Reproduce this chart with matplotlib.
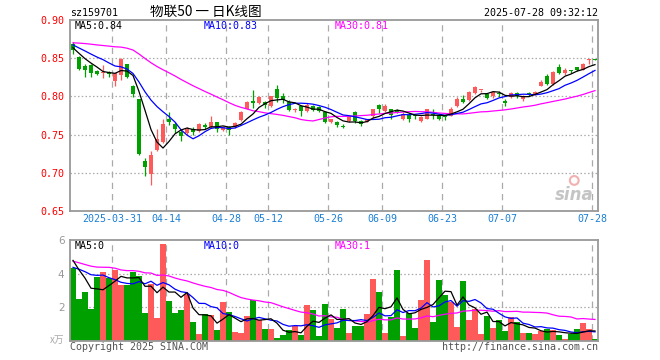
import numpy as np
import pandas as pd
import matplotlib
matplotlib.use("Agg")
import matplotlib.pyplot as plt

# trading days (weekdays minus exchange holidays)
holidays = ["2025-04-04", "2025-05-01", "2025-05-02", "2025-05-05", "2025-06-02"]
dates = pd.bdate_range("2025-03-20", "2025-07-28")
dates = dates[~dates.isin(pd.to_datetime(holidays))]

# daily candles
opens = [0.869, 0.852, 0.840, 0.841, 0.833, 0.830, 0.832, 0.820, 0.828, 0.842,
         0.814, 0.796, 0.716, 0.699, 0.730, 0.740, 0.770, 0.764, 0.754, 0.752,
         0.757, 0.755, 0.7625, 0.760, 0.766, 0.756, 0.760, 0.760, 0.769, 0.784,
         0.794, 0.791, 0.793, 0.788, 0.810, 0.800, 0.793, 0.782, 0.787, 0.781,
         0.787, 0.786, 0.780, 0.767, 0.766, 0.761, 0.768, 0.780, 0.768, 0.767,
         0.774, 0.789, 0.781, 0.783, 0.781, 0.770, 0.776, 0.776, 0.768, 0.771,
         0.777, 0.776, 0.774, 0.775, 0.787, 0.797, 0.795, 0.804, 0.8085, 0.803,
         0.800, 0.804, 0.794, 0.799, 0.805, 0.796, 0.804, 0.803, 0.814, 0.827,
         0.816, 0.838, 0.830, 0.834, 0.838, 0.835, 0.848, 0.849]
highs = [0.871, 0.853, 0.842, 0.842, 0.835, 0.841, 0.833, 0.831, 0.850, 0.843,
         0.815, 0.796, 0.719, 0.728, 0.757, 0.770, 0.779, 0.766, 0.756, 0.760,
         0.760, 0.765, 0.765, 0.774, 0.767, 0.761, 0.761, 0.766, 0.781, 0.794,
         0.808, 0.800, 0.794, 0.801, 0.815, 0.805, 0.795, 0.785, 0.789, 0.791,
         0.789, 0.787, 0.781, 0.771, 0.768, 0.764, 0.774, 0.781, 0.769, 0.771,
         0.784, 0.790, 0.790, 0.784, 0.784, 0.779, 0.778, 0.777, 0.775, 0.784,
         0.784, 0.777, 0.776, 0.786, 0.799, 0.802, 0.807, 0.813, 0.809, 0.804,
         0.807, 0.807, 0.796, 0.806, 0.806, 0.802, 0.806, 0.807, 0.821, 0.829,
         0.833, 0.842, 0.837, 0.834, 0.839, 0.844, 0.849, 0.849]
lows = [0.856, 0.834, 0.826, 0.826, 0.828, 0.824, 0.826, 0.813, 0.822, 0.824,
        0.799, 0.723, 0.696, 0.684, 0.729, 0.739, 0.763, 0.752, 0.742, 0.750,
        0.749, 0.754, 0.757, 0.758, 0.754, 0.755, 0.750, 0.758, 0.768, 0.783,
        0.785, 0.790, 0.785, 0.786, 0.793, 0.791, 0.781, 0.779, 0.774, 0.780,
        0.781, 0.780, 0.765, 0.765, 0.760, 0.759, 0.767, 0.765, 0.761, 0.766,
        0.772, 0.778, 0.779, 0.770, 0.778, 0.769, 0.766, 0.771, 0.767, 0.770,
        0.771, 0.769, 0.769, 0.774, 0.786, 0.792, 0.794, 0.803, 0.806, 0.797,
        0.798, 0.799, 0.788, 0.798, 0.798, 0.794, 0.801, 0.802, 0.813, 0.815,
        0.815, 0.829, 0.828, 0.831, 0.833, 0.834, 0.842, 0.847]
closes = [0.861, 0.836, 0.835, 0.831, 0.829, 0.832, 0.829, 0.830, 0.849, 0.826,
          0.803, 0.724, 0.707, 0.723, 0.744, 0.764, 0.767, 0.757, 0.748, 0.757,
          0.754, 0.764, 0.760, 0.766, 0.757, 0.760, 0.756, 0.765, 0.780, 0.793,
          0.791, 0.799, 0.789, 0.800, 0.798, 0.795, 0.782, 0.783, 0.781, 0.789,
          0.782, 0.781, 0.767, 0.770, 0.762, 0.760, 0.773, 0.768, 0.764, 0.770,
          0.783, 0.784, 0.787, 0.776, 0.780, 0.777, 0.771, 0.774, 0.773, 0.783,
          0.776, 0.770, 0.773, 0.783, 0.797, 0.793, 0.806, 0.812, 0.809, 0.798,
          0.806, 0.803, 0.791, 0.804, 0.800, 0.800, 0.8035, 0.806, 0.819, 0.816,
          0.832, 0.830, 0.835, 0.8335, 0.835, 0.843, 0.8485, 0.848]
# volume in 万
volume = [4.34, 2.50, 2.94, 1.90, 3.80, 4.08, 3.74, 4.24, 3.34, 3.34,
          4.08, 3.84, 1.64, 3.40, 1.38, 5.74, 2.38, 1.64, 1.84, 2.80,
          1.14, 0.40, 1.58, 1.54, 0.64, 2.34, 1.74, 0.54, 0.48, 1.48,
          2.44, 1.24, 0.72, 0.72, 0.18, 0.34, 0.64, 0.92, 0.34, 2.14,
          1.84, 0.28, 2.20, 1.30, 0.78, 1.90, 0.48, 0.88, 0.88, 1.60,
          3.70, 2.94, 0.48, 1.44, 4.24, 0.28, 1.64, 0.78, 2.44, 4.84,
          1.14, 3.64, 2.74, 2.30, 0.84, 3.58, 1.24, 1.88, 0.40, 1.48,
          0.78, 1.24, 0.58, 1.40, 1.12, 0.46, 0.46, 0.40, 0.60, 0.74,
          0.64, 0.34, 0.14, 0.44, 0.70, 1.04, 0.70, 0.10]

# estimated sessions before the window, only used to seed the moving averages
pre_close = [0.850, 0.852, 0.856, 0.858, 0.855, 0.853, 0.856, 0.862, 0.868, 0.875,
             0.880, 0.884, 0.889, 0.893, 0.890, 0.886, 0.882, 0.885, 0.880, 0.878,
             0.876, 0.874, 0.872, 0.868, 0.866, 0.872, 0.870, 0.860, 0.855]
pre_vol = [5.2, 6.1, 4.8, 5.5, 4.3, 3.9, 5.8, 6.4, 4.6, 4.1,
           5.0, 4.4, 3.8, 5.6, 4.9, 4.2, 5.3, 4.7, 5.1, 4.7,
           3.6, 4.4, 3.7, 4.2, 3.9, 5.3, 5.4, 4.9, 4.0]

tick_dates = ["2025-03-31", "2025-04-14", "2025-04-28", "2025-05-12", "2025-05-26",
              "2025-06-09", "2025-06-23", "2025-07-07", "2025-07-28"]
tick_labels = ["2025-03-31", "04-14", "04-28", "05-12", "05-26",
               "06-09", "06-23", "07-07", "07-28"]

RED = "#ff5a5a"
GREEN = "#00a000"
GRID = "#aaaaaa"
MONO = "DejaVu Sans Mono"
CJK = ["Noto Sans CJK SC", "DejaVu Sans"]

n = len(closes)
x = np.arange(n)
o = np.array(opens); h = np.array(highs); l = np.array(lows); c = np.array(closes)
v = np.array(volume)
up = c >= o
cols = np.where(up, RED, GREEN)

full_c = pd.Series(pre_close + closes)
full_v = pd.Series(pre_vol + volume)
k = len(pre_close)
ma = {p: full_c.rolling(p).mean().values[k:] for p in (5, 10, 30)}
mav = {p: full_v.rolling(p).mean().values[k:] for p in (5, 10, 30)}
ma_cols = {5: "black", 10: "#0000ff", 30: "#ff00ff"}

W, H = 660, 360
fig = plt.figure(figsize=(6.6, 3.6), dpi=100)
ax = fig.add_axes([70 / W, 1 - 211 / H, 528 / W, 191 / H])
axv = fig.add_axes([70 / W, 1 - 341 / H, 528 / W, 101 / H])

def fp(px, py):
    return px / W, 1 - py / H

tick_pos = [int(np.where(dates == pd.Timestamp(d))[0][0]) - 0.5 for d in tick_dates]

for a in (ax, axv):
    a.set_xlim(-0.5, n - 0.5)
    for s in a.spines.values():
        s.set_color("#999999")
        s.set_linewidth(1.3)
    for tp in tick_pos:
        a.axvline(tp, color=GRID, lw=0.9, ls=(0, (5, 4)), zorder=0)

# price panel
ax.set_ylim(0.65, 0.90)
for yv in (0.70, 0.75, 0.80, 0.85):
    ax.axhline(yv, color=GRID, lw=0.9, ls=(0, (1.2, 1.8)), zorder=0)
ax.vlines(x, l, h, colors=cols, lw=0.9, zorder=2)
body = np.maximum(np.abs(c - o), 0.0012)
ax.bar(x, body, bottom=np.minimum(o, c), width=0.78, color=cols, linewidth=0, zorder=3)
for p in (30, 10, 5):
    ax.plot(x, ma[p], color=ma_cols[p], lw=0.9, zorder=4)
ax.set_yticks([0.65, 0.70, 0.75, 0.80, 0.85, 0.90])
ax.set_yticklabels(["%.2f" % t for t in ax.get_yticks()], color="red",
                   fontfamily=MONO, fontsize=7.2)
ax.set_xticks(tick_pos)
ax.set_xticklabels(tick_labels, color="#1a7fd4", fontfamily=MONO, fontsize=7.2)
ax.tick_params(length=0, pad=4)
ax.tick_params(axis="x", pad=2.5)

# sina watermark
ax.text(0.955, 0.085, "sina", transform=ax.transAxes, ha="center", va="center",
        fontsize=12, fontweight="bold", fontstyle="italic", color="#c4c4c4")
ax.scatter([0.955], [0.16], transform=ax.transAxes, s=40, facecolors="none",
           edgecolors="#f2b0b0", linewidths=1.5, zorder=1)

# volume panel
axv.set_ylim(0, 6)
for yv in (2, 4):
    axv.axhline(yv, color=GRID, lw=0.9, ls=(0, (1.2, 1.8)), zorder=0)
axv.bar(x, v, width=0.85, color=cols, linewidth=0, zorder=2)
for p in (30, 10, 5):
    axv.plot(x, mav[p], color=ma_cols[p], lw=0.9, zorder=4)
axv.set_yticks([2, 4, 6])
axv.set_yticklabels(["2", "4", "6"], color="#999999", fontsize=7.5)
axv.set_xticks([])
axv.tick_params(length=0, pad=4)

# header texts
fig.text(*fp(70, 13), "sz159701", ha="left", va="center", fontfamily=MONO, fontsize=7.2)
fig.text(*fp(206, 12), "物联50 一 日K线图", ha="center", va="center",
         fontfamily=CJK, fontsize=9.8)
fig.text(*fp(598, 13), "2025-07-28 09:32:12", ha="right", va="center",
         fontfamily=MONO, fontsize=7.2)

fig.text(*fp(75, 26), "MA5:%.2f" % ma[5][-1], color="black", va="center",
         fontfamily=MONO, fontsize=7.2)
fig.text(*fp(204, 26), "MA10:%.2f" % ma[10][-1], color="#0000ff", va="center",
         fontfamily=MONO, fontsize=7.2)
fig.text(*fp(335, 26), "MA30:%.2f" % ma[30][-1], color="#ff00ff", va="center",
         fontfamily=MONO, fontsize=7.2)

fig.text(*fp(75, 246), "MA5:%d" % int(mav[5][-1]), color="black", va="center",
         fontfamily=MONO, fontsize=7.2)
fig.text(*fp(204, 246), "MA10:%d" % int(mav[10][-1]), color="#0000ff", va="center",
         fontfamily=MONO, fontsize=7.2)
fig.text(*fp(335, 246), "MA30:%d" % int(mav[30][-1]), color="#ff00ff", va="center",
         fontfamily=MONO, fontsize=7.2)

fig.text(*fp(64, 340), "x万", ha="right", va="center", color="#aaaaaa",
         fontfamily=CJK, fontsize=7)
fig.text(*fp(70, 347), "Copyright 2025 SINA.COM", ha="left", va="center",
         color="#555555", fontfamily=MONO, fontsize=7.2)
fig.text(*fp(598, 347), "http://finance.sina.com.cn", ha="right", va="center",
         color="#555555", fontfamily=MONO, fontsize=7.2)

fig.savefig("out.png", dpi=100, facecolor="white")
